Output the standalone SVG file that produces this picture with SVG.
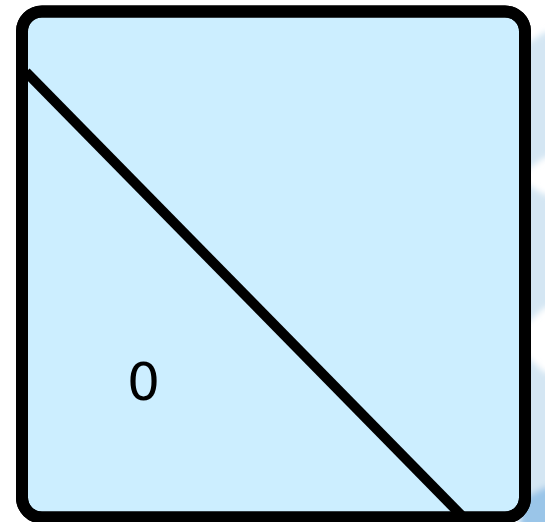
<svg xmlns="http://www.w3.org/2000/svg" width="545" height="522" viewBox="0 0 545 522">
<defs>
<style>
.bg{fill:#d4e6f3}
.bg2{fill:#9ac5e8}
.box{fill:#cceeff;stroke:#000;stroke-width:12}
.edge{stroke:#000;stroke-width:10;fill:none}
.lbl{font-family:"DejaVu Sans",sans-serif;font-size:52px;fill:#000}
</style>
<filter id="soft" x="-10%" y="-10%" width="120%" height="120%"><feGaussianBlur stdDeviation="3"/></filter>
</defs>
<g id="background" filter="url(#soft)">
<polygon class="bg" points="520,48 545,32 560,32 560,155 545,157 520,175"/>
<polygon class="bg" points="520,180 545,195 560,195 560,305 545,307 520,330"/>
<polygon class="bg" points="520,350 545,373 560,373 560,487 545,487 520,500"/>
<polygon class="bg2" points="520,500 545,487 560,487 560,530 520,530"/>
</g>
<g id="node-0">
<rect class="box" x="22" y="11.5" width="503" height="506" rx="20" ry="20"/>
<text class="lbl" x="143.5" y="400" text-anchor="middle">0</text>
</g>
<g id="connectors">
<line class="edge" x1="26" y1="72" x2="462" y2="516"/>
</g>
<rect x="22" y="11.5" width="503" height="506" rx="20" ry="20" fill="none" stroke="#000" stroke-width="12"/>
</svg>
